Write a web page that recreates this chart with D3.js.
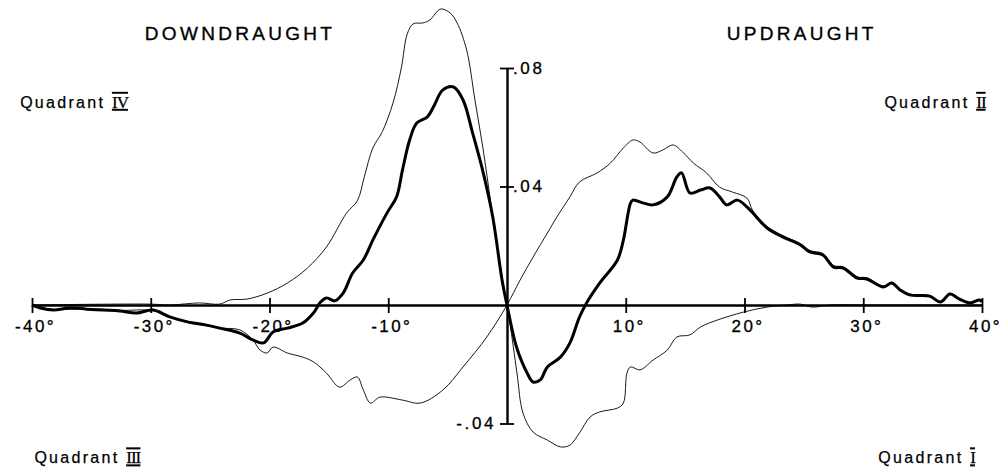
<!DOCTYPE html>
<html>
<head>
<meta charset="utf-8">
<script src="https://cdn.jsdelivr.net/npm/d3@7"></script>
<style>
  body { margin: 0; background: #fff; }
  svg { display: block; font-family: "Liberation Sans", Arial, sans-serif; }
</style>
</head>
<body>
<svg id="chart" width="1008" height="474"></svg>
<script>
"use strict";

// axis ticks
const xTicks = [-40, -30, -20, -10, 10, 20, 30, 40];
const xTickLabels = ["-40°", "-30°", "-20°", "-10°", "10°", "20°", "30°", "40°"];
const yTicks = [0.08, 0.04, -0.04];
const yTickLabels = [".08", ".04", "-.04"];

// [angle in degrees, value]
// heavy line
const heavyCurve = [
  [-40, 0], [-39.3, -0.001], [-38.2, -0.0017], [-36.8, -0.001], [-35.4, -0.0014], [-34, -0.0017],
  [-32.6, -0.002], [-31.2, -0.0027], [-29.8, -0.0017], [-28.4, -0.004], [-26.9, -0.0057],
  [-25.3, -0.0068], [-24.2, -0.0078], [-22.5, -0.0095], [-21.4, -0.0118], [-20.5, -0.0128],
  [-19.7, -0.0091], [-18.5, -0.0078], [-17.2, -0.0061], [-16.3, -0.0027], [-15.7, 0.001],
  [-15.2, 0.0024], [-14.5, 0.0014], [-13.8, 0.004], [-13, 0.0108], [-12.1, 0.0152],
  [-11.3, 0.0219], [-10.1, 0.0311], [-9.3, 0.0365], [-8.8, 0.0456], [-8.2, 0.0557],
  [-7.6, 0.0614], [-6.7, 0.0635], [-6.2, 0.0668], [-5.4, 0.0726], [-4.5, 0.0736],
  [-3.7, 0.0692], [-2.9, 0.0581], [-2, 0.0446], [-1.2, 0.0297], [-0.4, 0.008], [0, 0],
  [0.8, -0.0142], [1.7, -0.023], [2.2, -0.026], [2.8, -0.0253], [3.4, -0.0209], [4.5, -0.0176],
  [5.3, -0.0128], [6.1, -0.0041], [6.7, 0.0007], [7.8, 0.0074], [9.3, 0.0152], [9.8, 0.0219],
  [10.4, 0.0344], [10.6, 0.0354], [11.5, 0.0344], [12.3, 0.0338], [13.5, 0.0365], [14.3, 0.0432],
  [14.7, 0.0446], [15.4, 0.0378], [16.3, 0.0388], [17.1, 0.0395], [17.9, 0.0365], [18.5, 0.0338],
  [19.4, 0.0354], [20.2, 0.0331], [20.7, 0.0311], [21.9, 0.026], [23.2, 0.023], [24.7, 0.0203],
  [25.5, 0.0179], [26.6, 0.0169], [27.5, 0.0128], [28.3, 0.0125], [29.5, 0.0091], [30.3, 0.0088],
  [31.7, 0.0061], [32.4, 0.0074], [33.1, 0.0051], [33.9, 0.0034], [35.6, 0.003], [36.5, 0.001],
  [37.3, 0.0037], [38.1, 0.002], [39, 0.0007], [39.8, 0.0017], [40, 0.001]
];

// light line: positive on the updraught side
const lightUp = [
  [-40, 0], [-38.2, -0.0015], [-35.4, -0.0012], [-32.6, -0.0018], [-29.8, -0.0019],
  [-28.4, -0.0042], [-26.9, -0.0059], [-25.3, -0.007], [-24.2, -0.0078], [-22.5, -0.0084],
  [-21.4, -0.0118], [-20.8, -0.0152], [-20.2, -0.0162], [-19.7, -0.0142], [-18.5, -0.0162],
  [-17.2, -0.0176], [-16.3, -0.0192], [-15.2, -0.023], [-14.1, -0.0277], [-13.2, -0.0253],
  [-12.6, -0.0243], [-12.1, -0.0287], [-11.5, -0.0331], [-10.7, -0.0311], [-8.8, -0.0321],
  [-7.3, -0.0331], [-5.4, -0.0287], [-3.7, -0.0209], [-1.7, -0.0108], [0, 0],
  [1.1, 0.0084], [2.2, 0.0162], [3.4, 0.0243], [4.2, 0.0297], [5.3, 0.0365], [6.1, 0.0415],
  [7.6, 0.0446], [8.7, 0.0479], [9.8, 0.053], [10.6, 0.0557], [11.2, 0.055], [12.3, 0.0513],
  [13.1, 0.0523], [14, 0.054], [14.8, 0.0516], [15.7, 0.0479], [16.8, 0.0446], [17.9, 0.0398],
  [19, 0.0381], [20.2, 0.0361], [20.7, 0.0318], [21.9, 0.0265], [23.2, 0.0235], [24.7, 0.0207],
  [25.5, 0.0184], [26.6, 0.0174], [27.5, 0.0133], [28.3, 0.0129], [29.5, 0.0095], [30.3, 0.0092],
  [31.7, 0.0064], [32.4, 0.0077], [33.1, 0.0054], [33.9, 0.0037], [35.6, 0.0032], [36.5, 0.0012],
  [37.3, 0.0039], [38.1, 0.0022], [39, 0.0009], [39.8, 0.0018], [40, 0.001]
];

// light line: positive on the downdraught side
const lightDown = [
  [-40, 0], [-30, 0.0003], [-28.4, 0], [-25.9, 0.0007], [-24.2, 0.0003], [-23.3, 0.0017],
  [-21.9, 0.002], [-20.2, 0.004], [-18.5, 0.0074], [-16.8, 0.0125], [-15.2, 0.0196],
  [-13.5, 0.0311], [-12.6, 0.0352], [-12, 0.0435], [-11.3, 0.0530], [-10.5, 0.0585],
  [-9.6, 0.0682], [-8.9, 0.0800], [-8.4, 0.0915], [-7.9, 0.0949], [-7.1, 0.0952], [-6.5, 0.0962],
  [-5.6, 0.0999], [-4.8, 0.0986], [-4.2, 0.0952], [-3.4, 0.0861], [-2.7, 0.0692], [-2, 0.0523],
  [-1.4, 0.0354], [-0.8, 0.0186], [-0.3, 0.0068], [0, 0],
  [0.25, -0.0061], [0.84, -0.023], [1.35, -0.0365], [2.2, -0.0429], [3.4, -0.0456],
  [4.5, -0.0479], [5.3, -0.0473], [6.1, -0.0432], [7, -0.0378], [7.8, -0.0361], [9.3, -0.0348],
  [9.8, -0.0331], [10.1, -0.023], [10.4, -0.0209], [11.2, -0.0219], [12.3, -0.0186],
  [13.5, -0.0152], [14.3, -0.0108], [15.4, -0.0101], [16.3, -0.0074], [17.7, -0.0051],
  [19.9, -0.0024], [21.9, -0.0007], [23.6, 0], [24.7, 0.0003], [25.7, -0.0007], [27.2, 0],
  [30.6, 0], [40, 0]
];

const sideLabels = [
  { text: "DOWNDRAUGHT", x: -30.5, y: 0.0895 },
  { text: "UPDRAUGHT", x: 18.5, y: 0.0895 }
];
const quadrantLabels = [
  { name: "Quadrant ", num: "IV", x: -41.0, y: 0.0665, anchor: "start" },
  { name: "Quadrant ", num: "II", x: 40.3, y: 0.0665, anchor: "end" },
  { name: "Quadrant ", num: "III", x: -39.8, y: -0.0535, anchor: "start" },
  { name: "Quadrant ", num: "I", x: 39.4, y: -0.0535, anchor: "end" }
];

const svg = d3.select("#chart");

const x = d3.scaleLinear().domain([-40, 40]).range([32, 982]);
const y = d3.scaleLinear().domain([-0.04, 0.08]).range([423.5, 68]);

// x axis through zero
const xAxis = svg.append("g")
  .attr("transform", `translate(0,${y(0)})`)
  .call(d3.axisBottom(x).tickValues(xTicks).tickSize(0).tickSizeOuter(0)
    .tickFormat((d, i) => xTickLabels[i]));
xAxis.select(".domain").attr("stroke", "#000").attr("stroke-width", 2.4);
xAxis.selectAll(".tick line").attr("y1", -7).attr("y2", 8).attr("stroke-width", 1.8);
xAxis.selectAll(".tick text")
  .attr("y", 15).attr("dy", "0.71em")
  .attr("dx", 3)
  .attr("stroke", "#000").attr("stroke-width", 0.3)
  .style("font-size", "17px").style("letter-spacing", "2.4px").attr("fill", "#000");

// y axis through zero
const yAxis = svg.append("g")
  .attr("transform", `translate(${x(0)},0)`)
  .call(d3.axisRight(y).tickValues(yTicks).tickSize(0).tickSizeOuter(0)
    .tickFormat((d, i) => yTickLabels[i]));
yAxis.select(".domain").attr("stroke", "#000").attr("stroke-width", 2.4);
yAxis.selectAll(".tick line").attr("x1", -7).attr("x2", 7).attr("stroke-width", 1.8);
yAxis.selectAll(".tick text")
  .attr("x", d => d < 0 ? -11 : 6)
  .attr("text-anchor", d => d < 0 ? "end" : "start")
  .attr("stroke", "#000").attr("stroke-width", 0.3)
  .style("font-size", "17px").style("letter-spacing", "2.6px").attr("fill", "#000");

const line = d3.line()
  .x(d => x(d[0]))
  .y(d => y(d[1]))
  .curve(d3.curveCatmullRom.alpha(0.5));

svg.append("path").datum(lightDown)
  .attr("d", line).attr("fill", "none").attr("stroke", "#000").attr("stroke-width", 0.9);
svg.append("path").datum(lightUp)
  .attr("d", line).attr("fill", "none").attr("stroke", "#000").attr("stroke-width", 0.9);
svg.append("path").datum(heavyCurve)
  .attr("d", line).attr("fill", "none").attr("stroke", "#000").attr("stroke-width", 3);

svg.selectAll("text.side").data(sideLabels).enter()
  .append("text").attr("class", "side")
  .attr("x", d => x(d.x)).attr("y", d => y(d.y))
  .attr("stroke", "#000").attr("stroke-width", 0.35)
  .style("font-size", "19px").style("letter-spacing", "3.3px")
  .text(d => d.text);

const q = svg.selectAll("text.quad").data(quadrantLabels).enter()
  .append("text").attr("class", "quad")
  .attr("x", d => x(d.x)).attr("y", d => y(d.y))
  .attr("text-anchor", d => d.anchor)
  .attr("stroke", "#000").attr("stroke-width", 0.25)
  .style("font-size", "16px").style("letter-spacing", "2.3px");
q.append("tspan").text(d => d.name);
// roman numerals with bars top and bottom, as in the print
q.append("tspan")
  .style("font-family", "'Liberation Serif', serif")
  .style("font-size", "17px")
  .style("letter-spacing", "-1px")
  .style("text-decoration", "underline overline")
  .text(d => d.num);
</script>
</body>
</html>
